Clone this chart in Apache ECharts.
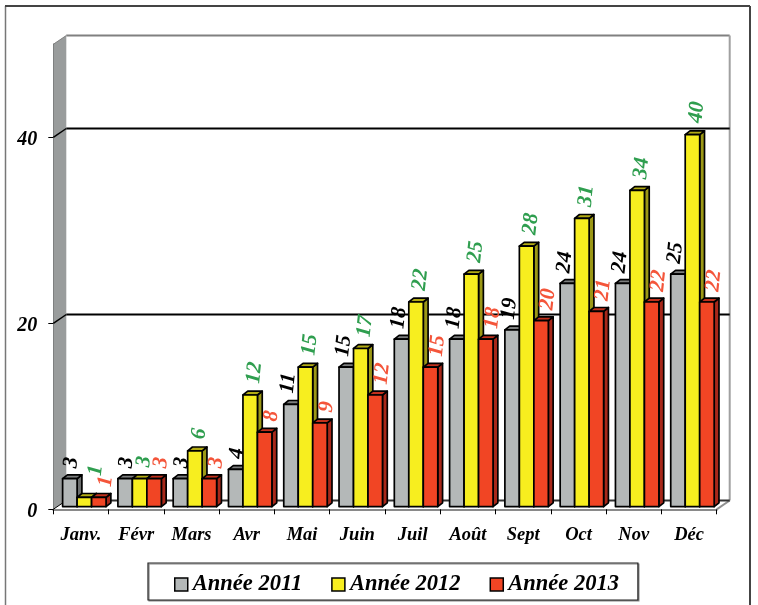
<!DOCTYPE html>
<html>
<head>
<meta charset="utf-8">
<title>ECharts</title>
<script src="https://cdn.jsdelivr.net/npm/echarts@6/dist/echarts.min.js"></script>
<style>
html, body { margin: 0; padding: 0; background: #fff; }
</style>
</head>
<body>
<div id="main" style="width:758px;height:605px;"></div>
<script type="text/javascript">
var months = ['Janv.', 'Févr', 'Mars', 'Avr', 'Mai', 'Juin', 'Juil', 'Août', 'Sept', 'Oct', 'Nov', 'Déc'];
var years = ['Année 2011', 'Année 2012', 'Année 2013'];
var y2011 = [3, 3, 3, 4, 11, 15, 18, 18, 19, 24, 24, 25];
var y2012 = [1, 3, 6, 12, 15, 17, 22, 25, 28, 31, 34, 40];
var y2013 = [1, 3, 3, 8, 9, 12, 15, 18, 20, 21, 22, 22];
var gridValues = [0, 20, 40];

var yearData = [y2011, y2012, y2013];
var faces = [
    { front: '#b4b8b8', top: '#7c7e7e', side: '#6c6e6e', label: '#000000' },
    { front: '#f7ee1f', top: '#b3ac14', side: '#9c9816', label: '#2f9e4f' },
    { front: '#f14524', top: '#c2301c', side: '#a8281a', label: '#f4553a' }
];
var SERIF = '"Liberation Serif", "Times New Roman", serif';
var wallDx = 13, wallDy = -8.8;    // depth of the whole box
var barDx = 4.8, barDy = -3.8;     // depth of one bar
var inDx = 3.4, inDy = -2.7;       // bars stand a little behind the front edge

function poly(pts, fill, stroke) {
    return {
        type: 'polygon',
        shape: { points: pts },
        style: { fill: fill, stroke: stroke || '#000', lineWidth: 1.7, lineJoin: 'round' }
    };
}

function line(x1, y1, x2, y2, color, w) {
    return {
        type: 'line',
        shape: { x1: x1, y1: y1, x2: x2, y2: y2 },
        style: { stroke: color, lineWidth: w }
    };
}

// back wall, side wall, floor and the lines running round them
function renderWall(params, api) {
    var cs = params.coordSys;
    var l = cs.x, r = cs.x + cs.width, t = cs.y, b = cs.y + cs.height;
    var kids = [
        poly([[l, t], [l + wallDx, t + wallDy], [l + wallDx, b + wallDy], [l, b]], '#999c9c', 'none'),
        line(l + wallDx, t + wallDy, r + wallDx, t + wallDy, '#808080', 2),
        line(r + wallDx, t + wallDy, r + wallDx, b + wallDy, '#a0a0a0', 2),
        line(l, t, l + wallDx, t + wallDy, '#808080', 1),
        line(r, b, r + wallDx, b + wallDy, '#909090', 2)
    ];
    gridValues.forEach(function (v) {
        var y = api.coord([0, v])[1];
        kids.push(line(l, y, l + wallDx, y + wallDy, '#000', v === 0 ? 1 : 1.5));
        kids.push(line(l + wallDx, y + wallDy, r + wallDx, y + wallDy, v === 0 ? '#333' : '#000', 2));
    });
    return { type: 'group', children: kids };
}

function barBox(params, api, k) {
    var band = api.size([1, 0])[0];
    var w = band * 0.262;
    var p = api.coord([api.value(0), api.value(1)]);
    var zero = api.coord([api.value(0), 0]);
    var x = p[0] + inDx + (k - 1.5) * w;
    return { x: x, w: w, top: p[1] + inDy, bottom: zero[1] + inDy };
}

function renderBar(k) {
    return function (params, api) {
        var s = barBox(params, api, k);
        var x = s.x, w = s.w, top = s.top, bottom = s.bottom;
        return {
            type: 'group',
            children: [
                poly([[x + w, top], [x + w + barDx, top + barDy], [x + w + barDx, bottom + barDy], [x + w, bottom]], faces[k].side),
                poly([[x, top], [x + barDx, top + barDy], [x + w + barDx, top + barDy], [x + w, top]], faces[k].top),
                poly([[x, top], [x + w, top], [x + w, bottom], [x, bottom]], faces[k].front)
            ]
        };
    };
}

// labels go in their own series so they stay above every bar
function renderLabel(k) {
    return function (params, api) {
        var s = barBox(params, api, k);
        var v = api.value(1);
        var text = String(v);
        var len = text.length * 10.5;
        var dx = k === 2 ? 4.5 : k === 1 ? 2 : (text.length > 1 ? -5 : -1);
        var gap = k === 1 ? 8 : 7;
        if (k === 1 && v === 1) { dx = 9; gap = 18; }
        return {
            type: 'text',
            x: s.x + s.w / 2 + barDx / 2 + dx,
            y: s.top + barDy - gap - len / 2,
            rotation: Math.PI / 2 * 0.93,
            style: {
                text: text,
                font: 'italic bold 21.5px ' + SERIF,
                fill: faces[k].label,
                align: 'center',
                verticalAlign: 'middle'
            }
        };
    };
}

var series = [{
    name: 'wall',
    type: 'custom',
    z: 1,
    silent: true,
    data: [[0, 0]],
    encode: { x: 0, y: 1 },
    renderItem: renderWall
}];
yearData.forEach(function (vals, k) {
    var rows = vals.map(function (v, i) { return [i, v]; });
    series.push({
        name: years[k],
        type: 'custom',
        z: 2 + k,
        silent: true,
        itemStyle: { color: faces[k].front },
        data: rows,
        encode: { x: 0, y: 1 },
        renderItem: renderBar(k)
    });
    series.push({
        name: years[k] + ' labels',
        type: 'custom',
        z: 10,
        silent: true,
        data: rows,
        encode: { x: 0, y: 1 },
        renderItem: renderLabel(k)
    });
});

var myChart = echarts.init(document.getElementById('main'));
myChart.setOption({
    animation: false,
    backgroundColor: '#fff',
    graphic: [
        { type: 'line', shape: { x1: 5.5, y1: 6, x2: 5.5, y2: 605 }, style: { stroke: '#777', lineWidth: 1.5 } },
        { type: 'line', shape: { x1: 5, y1: 6, x2: 750, y2: 6 }, style: { stroke: '#444', lineWidth: 2 } },
        { type: 'line', shape: { x1: 750, y1: 6, x2: 750, y2: 605 }, style: { stroke: '#444', lineWidth: 2 } }
    ],
    grid: { left: 53.3, right: 41.3, top: 44.3, bottom: 95.7 },
    legend: {
        data: years,
        left: 148,
        top: 563,
        orient: 'horizontal',
        itemWidth: 13,
        itemHeight: 13,
        itemGap: 29,
        padding: [10, 19, 4, 26],
        icon: 'rect',
        backgroundColor: '#fff',
        borderColor: '#222',
        borderWidth: 1.2,
        shadowColor: '#888',
        shadowOffsetX: 1,
        shadowOffsetY: 1,
        shadowBlur: 0,
        itemStyle: { borderColor: '#000', borderWidth: 1.5 },
        textStyle: {
            fontFamily: SERIF,
            fontStyle: 'italic',
            fontWeight: 'bold',
            fontSize: 22.5,
            color: '#000'
        },
        selectedMode: false
    },
    xAxis: {
        type: 'category',
        data: months,
        axisLine: { lineStyle: { color: '#8a8a8a', width: 2 } },
        axisTick: { show: true, length: 5, lineStyle: { color: '#000', width: 1 } },
        axisLabel: {
            interval: 0,
            margin: 16,
            fontFamily: SERIF,
            fontStyle: 'italic',
            fontWeight: 'bold',
            fontSize: 18.5,
            color: '#000'
        },
        splitLine: { show: false }
    },
    yAxis: {
        type: 'value',
        min: 0,
        max: 50,
        interval: 10,
        axisLine: { show: true, onZero: false, lineStyle: { color: '#000', width: 1.5 } },
        axisTick: { show: true, length: 5, customValues: gridValues, lineStyle: { color: '#000', width: 1 } },
        axisLabel: {
            customValues: gridValues,
            margin: 16,
            verticalAlign: 'top',
            lineHeight: 5,
            fontFamily: SERIF,
            fontStyle: 'italic',
            fontWeight: 'bold',
            fontSize: 20,
            color: '#000'
        },
        splitLine: { show: false }
    },
    series: series
});
</script>
</body>
</html>
